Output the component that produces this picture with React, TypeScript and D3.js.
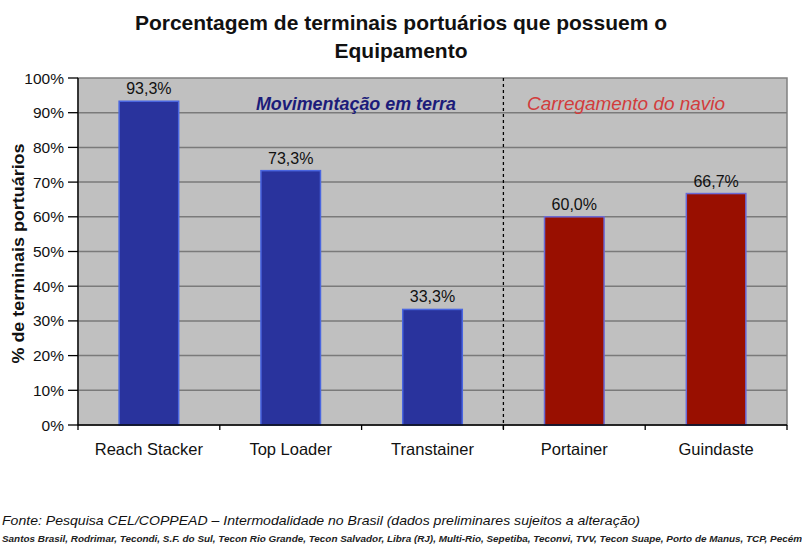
import * as d3 from "d3";

const categories = ["Reach Stacker", "Top Loader", "Transtainer", "Portainer", "Guindaste"];
const values = [93.3, 73.3, 33.3, 60.0, 66.7];
const groups = ["terra", "terra", "terra", "navio", "navio"];
const yTicks = [0, 10, 20, 30, 40, 50, 60, 70, 80, 90, 100];

const W = 802;
const H = 554;
const M = { left: 78, right: 15, top: 78, bottom: 129 };

const FILL: Record<string, string> = { terra: "#29339d", navio: "#990f00" };
const EDGE: Record<string, string> = { terra: "#4a66e0", navio: "#6a6ad6" };

const fmt = (v: number) => v.toFixed(1).replace(".", ",") + "%";

const App = () => {
  const x = d3
    .scaleBand<string>()
    .domain(categories)
    .range([M.left, W - M.right])
    .paddingInner(0.58)
    .paddingOuter(0.29);
  const y = d3.scaleLinear().domain([0, 100]).range([H - M.bottom, M.top]);
  const step = x.step();
  const divider = M.left + step * 3;

  return (
    <svg
      width={W}
      height={H}
      style={{ position: "absolute", left: 0, top: 0, background: "#fff" }}
      fontFamily="Arial, 'Liberation Sans', sans-serif"
    >
      <text x={401} y={30} textAnchor="middle" fontSize={21} fontWeight="bold" fill="#111">
        Porcentagem de terminais portuários que possuem o
      </text>
      <text x={401} y={58} textAnchor="middle" fontSize={21} fontWeight="bold" fill="#111">
        Equipamento
      </text>

      {/* plot area */}
      <rect
        x={M.left}
        y={M.top}
        width={W - M.left - M.right}
        height={H - M.top - M.bottom}
        fill="#c0c0c0"
        stroke="#808080"
        strokeWidth={1.5}
      />
      {yTicks.slice(1, -1).map((t) => (
        <line
          key={t}
          x1={M.left}
          x2={W - M.right}
          y1={y(t)}
          y2={y(t)}
          stroke="#7a7a7a"
          strokeWidth={1.5}
        />
      ))}

      <line
        x1={divider}
        x2={divider}
        y1={M.top}
        y2={H - M.bottom + 4}
        stroke="#000"
        strokeWidth={1.3}
        strokeDasharray="3,3"
      />

      <text
        x={M.left + step * 1.96}
        y={y(90) - 3}
        textAnchor="middle"
        fontSize={17.5}
        fontStyle="italic"
        fontWeight="bold"
        fill="#1c1c7a"
        textLength={200}
        lengthAdjust="spacingAndGlyphs"
      >
        Movimentação em terra
      </text>
      <text
        x={M.left + step * 3.865}
        y={y(90) - 3}
        textAnchor="middle"
        fontSize={17.5}
        fontStyle="italic"
        fill="#d23c3c"
        textLength={198}
        lengthAdjust="spacingAndGlyphs"
      >
        Carregamento do navio
      </text>

      {categories.map((c, i) => (
        <g key={c}>
          <rect
            x={x(c)}
            y={y(values[i])}
            width={x.bandwidth()}
            height={y(0) - y(values[i])}
            fill={FILL[groups[i]]}
            stroke={EDGE[groups[i]]}
            strokeWidth={1.5}
          />
          <text
            x={(x(c) ?? 0) + x.bandwidth() / 2}
            y={y(values[i]) - 7}
            textAnchor="middle"
            fontSize={16}
            fill="#111"
          >
            {fmt(values[i])}
          </text>
          <text
            x={(x(c) ?? 0) + x.bandwidth() / 2}
            y={y(0) + 30}
            textAnchor="middle"
            fontSize={16.5}
            fill="#111"
          >
            {c}
          </text>
        </g>
      ))}

      {/* axes */}
      <line x1={M.left} x2={M.left} y1={M.top} y2={y(0)} stroke="#000" strokeWidth={1.3} />
      <line x1={M.left} x2={W - M.right} y1={y(0)} y2={y(0)} stroke="#000" strokeWidth={1.3} />
      {d3.range(categories.length + 1).map((i) => (
        <line
          key={i}
          x1={M.left + step * i}
          x2={M.left + step * i}
          y1={y(0)}
          y2={y(0) + 5}
          stroke="#000"
          strokeWidth={1.3}
        />
      ))}
      {yTicks.map((t) => (
        <g key={t}>
          <line x1={M.left - 10} x2={M.left} y1={y(t)} y2={y(t)} stroke="#000" strokeWidth={1.3} />
          <text x={M.left - 14} y={y(t) + 5.5} textAnchor="end" fontSize={15.5} fill="#111">
            {t}%
          </text>
        </g>
      ))}
      <text
        transform={`translate(24,${(y(0) + y(100)) / 2 + 2}) rotate(-90)`}
        textAnchor="middle"
        fontSize={17}
        fontWeight="bold"
        fill="#111"
        textLength={220}
        lengthAdjust="spacingAndGlyphs"
      >
        % de terminais portuários
      </text>

      {/* source notes */}
      <text
        x={2}
        y={525}
        fontSize={13.5}
        fontStyle="italic"
        fill="#111"
        textLength={638}
        lengthAdjust="spacingAndGlyphs"
      >
        Fonte: Pesquisa CEL/COPPEAD – Intermodalidade no Brasil (dados preliminares sujeitos a alteração)
      </text>
      <text
        x={2}
        y={542}
        fontSize={9}
        fontStyle="italic"
        fontWeight="bold"
        fill="#222"
        textLength={800}
        lengthAdjust="spacingAndGlyphs"
      >
        Santos Brasil, Rodrimar, Tecondi, S.F. do Sul, Tecon Rio Grande, Tecon Salvador, Libra (RJ), Multi-Rio, Sepetiba, Teconvi, TVV, Tecon Suape, Porto de Manus, TCP, Pecém
      </text>
    </svg>
  );
};

export default App;
